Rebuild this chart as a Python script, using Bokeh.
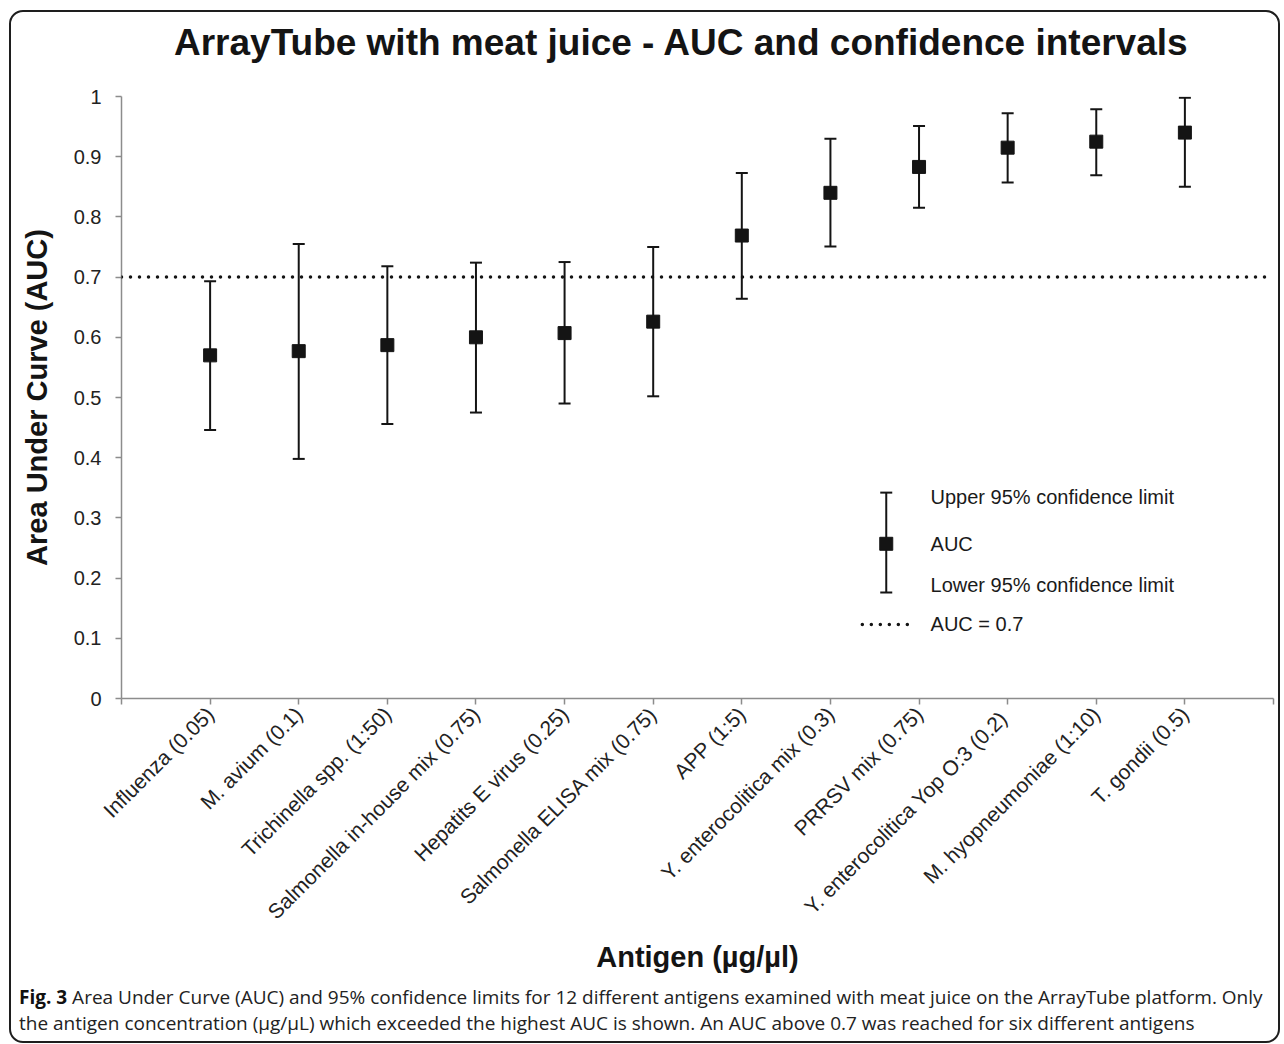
import math
from bokeh.plotting import figure
from bokeh.layouts import column
from bokeh.models import Range1d, FixedTicker, Span, Label, Div
from bokeh.embed import file_html
from bokeh.resources import INLINE

# ---------------- data ----------------
antigens = [
    "Influenza (0.05)",
    "M. avium (0.1)",
    "Trichinella spp. (1:50)",
    "Salmonella in-house mix (0.75)",
    "Hepatits E virus (0.25)",
    "Salmonella ELISA mix (0.75)",
    "APP (1:5)",
    "Y. enterocolitica mix (0.3)",
    "PRRSV mix (0.75)",
    "Y. enterocolitica Yop O:3  (0.2)",
    "M. hyopneumoniae (1:10)",
    "T. gondii (0.5)",
]
auc = [0.570, 0.577, 0.587, 0.600, 0.607, 0.626, 0.769, 0.840, 0.883, 0.915, 0.925, 0.940]
upper = [0.693, 0.755, 0.718, 0.724, 0.725, 0.750, 0.873, 0.930, 0.951, 0.972, 0.979, 0.998]
lower = [0.446, 0.398, 0.456, 0.475, 0.490, 0.502, 0.664, 0.751, 0.815, 0.857, 0.869, 0.850]
threshold = 0.7
y_ticks = [0, 0.1, 0.2, 0.3, 0.4, 0.5, 0.6, 0.7, 0.8, 0.9, 1]
y_tick_labels = ["0", "0.1", "0.2", "0.3", "0.4", "0.5", "0.6", "0.7", "0.8", "0.9", "1"]

title_text = "ArrayTube with meat juice - AUC and confidence intervals"
x_label = "Antigen (µg/µl)"
y_label = "Area Under Curve (AUC)"
legend_texts = ["Upper 95% confidence limit", "AUC", "Lower 95% confidence limit", "AUC = 0.7"]
caption_bold = "Fig. 3"
caption_line1 = ("Area Under Curve (AUC) and 95% confidence limits for 12 different antigens "
                 "examined with meat juice on the ArrayTube platform. Only")
caption_line2 = ("the antigen concentration (µg/µL) which exceeded the highest AUC is shown. "
                 "An AUC above 0.7 was reached for six different antigens")

xs = list(range(1, len(antigens) + 1))

FONT = "Liberation Sans"
INK = "#141414"
AXIS_GRAY = "#8c8c8c"
W = 1267

# ---------------- title strip ----------------
title_div = Div(
    text=(f'<div style="font-family:\'Liberation Sans\', Arial, sans-serif; font-weight:bold; '
          f'font-size:37px; line-height:37px; color:{INK}; padding-left:163px; padding-top:12px; '
          f'white-space:nowrap;">{title_text}</div>'),
    width=W, height=72, margin=0,
)

# ---------------- main chart ----------------
p = figure(
    width=W, height=894,
    x_range=Range1d(0, len(antigens) + 1), y_range=Range1d(0, 1),
    output_backend="svg", toolbar_location=None,
    min_border_left=110, min_border_right=5, min_border_top=12, min_border_bottom=280,
    margin=0,
)
p.outline_line_color = None
p.xgrid.grid_line_color = None
p.ygrid.grid_line_color = None
p.background_fill_color = "white"
p.border_fill_color = "white"

# y axis
ya = p.yaxis[0]
ya.ticker = FixedTicker(ticks=y_ticks)
ya.major_label_overrides = {t: l for t, l in zip(y_ticks, y_tick_labels)}
ya.major_label_text_font = FONT
ya.major_label_text_font_size = "20px"
ya.major_label_text_color = "#222222"
ya.axis_line_color = AXIS_GRAY
ya.axis_line_width = 1.5
ya.major_tick_line_color = AXIS_GRAY
ya.major_tick_line_width = 1.5
ya.major_tick_out = 6
ya.major_tick_in = 0
ya.minor_tick_line_color = None
ya.major_label_standoff = 14
ya.axis_label = y_label
ya.axis_label_text_font = FONT
ya.axis_label_text_font_size = "29px"
ya.axis_label_text_font_style = "bold"
ya.axis_label_text_color = INK
ya.axis_label_standoff = 18

# x axis
xa = p.xaxis[0]
x_ticks = list(range(0, len(antigens) + 2))
xa.ticker = FixedTicker(ticks=x_ticks)
overrides = {t: "" for t in x_ticks}
for xv, name in zip(xs, antigens):
    overrides[xv] = name
xa.major_label_overrides = overrides
xa.major_label_orientation = math.pi / 4
xa.major_label_text_font = FONT
xa.major_label_text_font_size = "21px"
xa.major_label_text_color = "#222222"
xa.axis_line_color = AXIS_GRAY
xa.axis_line_width = 1.5
xa.major_tick_line_color = AXIS_GRAY
xa.major_tick_line_width = 1.5
xa.major_tick_out = 6
xa.major_tick_in = 0
xa.minor_tick_line_color = None
xa.major_label_standoff = 6
xa.axis_label = x_label
xa.axis_label_text_font = FONT
xa.axis_label_text_font_size = "29px"
xa.axis_label_text_font_style = "bold"
xa.axis_label_text_color = INK
xa.axis_label_standoff = 7

# threshold line
p.add_layout(Span(location=threshold, dimension="width", line_color=INK,
                  line_width=3.5, line_dash="0 9", line_cap="round"))

# error bars
p.segment(x0=xs, y0=lower, x1=xs, y1=upper, line_color=INK, line_width=2)
p.scatter(x=xs + xs, y=upper + lower, marker="dash", size=12, line_color=INK, line_width=2)
p.scatter(x=xs, y=auc, marker="square", size=13, fill_color=INK, line_color=INK)

# legend (drawn as decoration inside the plot area)
lg_x = 8.63
lg_top, lg_mid, lg_bot = 0.342, 0.257, 0.176
p.segment(x0=[lg_x], y0=[lg_bot], x1=[lg_x], y1=[lg_top], line_color=INK, line_width=2)
p.scatter(x=[lg_x, lg_x], y=[lg_top, lg_bot], marker="dash", size=12, line_color=INK, line_width=2)
p.scatter(x=[lg_x], y=[lg_mid], marker="square", size=13, fill_color=INK, line_color=INK)
lg_dot_y = 0.123
p.line(x=[8.36, 8.88], y=[lg_dot_y, lg_dot_y], line_color=INK, line_width=3.5,
       line_dash="0 9", line_cap="round")
text_x = 9.13
for txt, ty in zip(legend_texts, [0.335, lg_mid, 0.188, lg_dot_y]):
    p.add_layout(Label(x=text_x, y=ty, text=txt, text_font=FONT, text_font_size="20px",
                       text_color="#1a1a1a", text_baseline="middle", text_align="left"))

# ---------------- caption strip ----------------
cap_div = Div(
    text=(f'<div style="font-family:\'Open Sans\', sans-serif; font-size:19px; line-height:26px; '
          f'color:#222222; padding-left:8px; padding-top:6px; white-space:nowrap;">'
          f'<b style="color:#111111">{caption_bold}</b> {caption_line1}<br>{caption_line2}</div>'),
    width=W, height=63, margin=0,
)

layout = column(title_div, p, cap_div, spacing=0)
layout.styles = {"margin-left": "9px", "margin-top": "10px",
                 "border": "2px solid #1e1e1e", "border-radius": "14px", "overflow": "hidden"}

open("out.html", "w").write(file_html(layout, INLINE))
